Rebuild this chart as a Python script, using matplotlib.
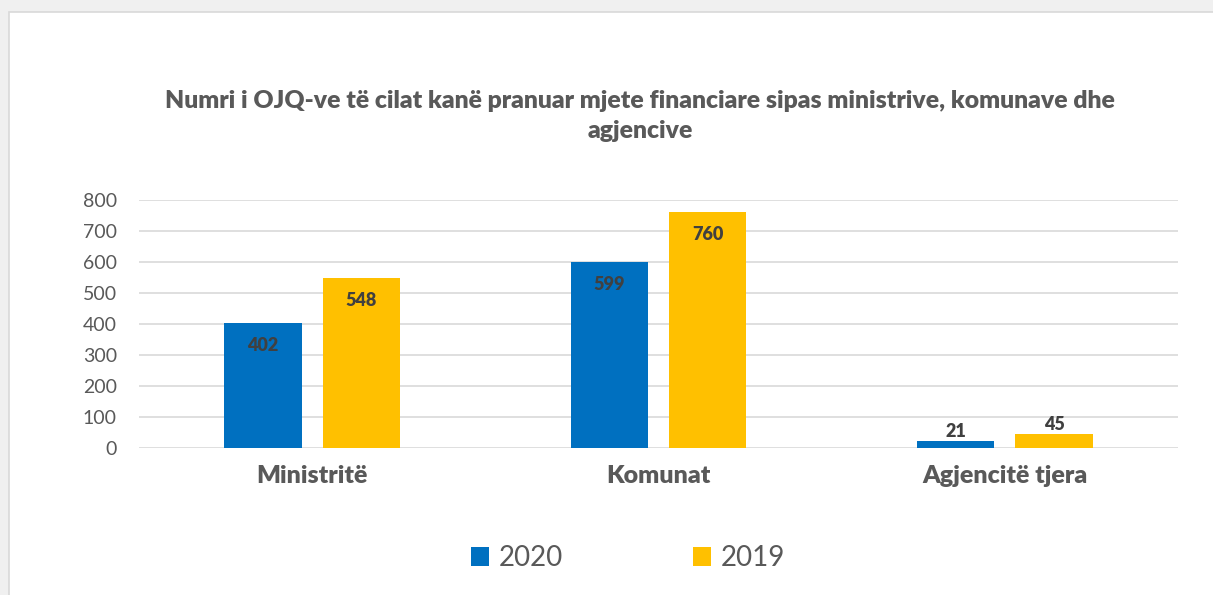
import numpy as np
import matplotlib.pyplot as plt
from matplotlib.patches import Rectangle

plt.rcParams['font.family'] = ['Lato', 'DejaVu Sans']

categories = ["Ministritë", "Komunat", "Agjencitë tjera"]
series_names = ["2020", "2019"]
values_2020 = [402, 599, 21]
values_2019 = [548, 760, 45]
colors = ["#0070C0", "#FFC000"]
yticks = [0, 100, 200, 300, 400, 500, 600, 700, 800]

title = ("Numri i OJQ-ve të cilat kanë pranuar mjete financiare sipas ministrive, komunave dhe\n"
         "agjencive")

fig = plt.figure(figsize=(12.13, 5.95), dpi=100)
fig.patch.set_facecolor("#f0f0f0")
# white chart area with a light border
fig.patches.append(Rectangle((9 / 1213, -0.05), 1.1, 1 - 12 / 595 + 0.05,
                             transform=fig.transFigure, facecolor="white",
                             edgecolor="#d9d9d9", lw=1.2, zorder=-5))

ax = fig.add_axes([139 / 1213, 1 - 448 / 595, (1178 - 139) / 1213, 248 / 595])
ax.set_zorder(2)
ax.set_facecolor("white")

x = np.arange(len(categories))
w = 0.224
off = 0.142
for vals, name, c, dx in [(values_2020, series_names[0], colors[0], -off),
                          (values_2019, series_names[1], colors[1], off)]:
    bars = ax.bar(x + dx, vals, width=w, color=c, label=name, zorder=3)
    for b, v in zip(bars, vals):
        cx = b.get_x() + b.get_width() / 2
        if v > 100:
            ax.annotate(str(v), (cx, v), xytext=(0, -16), textcoords="offset points",
                        ha="center", va="center", fontsize=13, fontweight="heavy",
                        color="#404040", zorder=4)
        else:
            ax.annotate(str(v), (cx, v), xytext=(0, 1), textcoords="offset points",
                        ha="center", va="bottom", fontsize=13, fontweight="heavy",
                        color="#404040", zorder=4)

ax.set_xlim(-0.5, len(categories) - 0.5)
ax.set_ylim(0, 800)
ax.set_yticks(yticks)
ax.yaxis.grid(True, color="#d9d9d9", lw=1.2, zorder=0)
ax.set_axisbelow(True)
for s in ["top", "right", "left", "bottom"]:
    ax.spines[s].set_visible(False)
ax.tick_params(axis="y", length=0, labelsize=14, labelcolor="#595959", pad=16)
ax.tick_params(axis="x", length=0, labelsize=18, labelcolor="#595959", pad=12)
ax.set_xticks(x)
ax.set_xticklabels(categories, fontweight="heavy")

fig.text(640 / 1213, 1 - 116 / 595, title, ha="center", va="center",
         fontsize=17.8, fontweight="heavy", color="#595959", linespacing=1.5)

leg = fig.legend(loc="center", bbox_to_anchor=(628 / 1213, 1 - 558 / 595), ncol=2,
                 frameon=False, fontsize=20, handlelength=0.65, handleheight=0.65,
                 handletextpad=0.35, columnspacing=4.7)
for t in leg.get_texts():
    t.set_color("#595959")

fig.savefig("out.png", dpi=100, facecolor=fig.get_facecolor())
